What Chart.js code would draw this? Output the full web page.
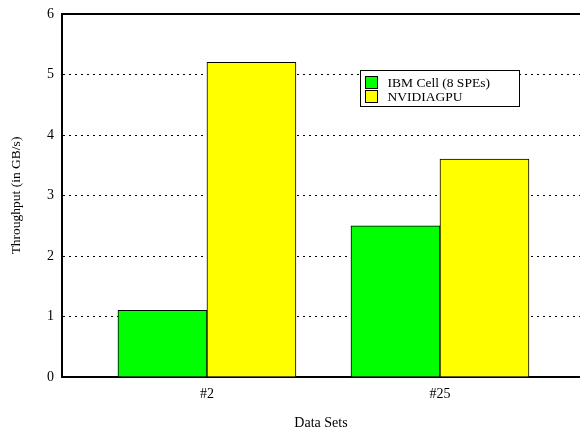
<!DOCTYPE html>
<html>
<head>
<meta charset="utf-8">
<script src="https://cdn.jsdelivr.net/npm/chart.js"></script>
<style>
  html, body { margin: 0; padding: 0; background: #fff; }
  #wrap { width: 580px; height: 428px; }
</style>
</head>
<body>
<div id="wrap"><canvas id="chart" width="580" height="428"></canvas></div>
<script>
const categories = ['#2', '#25'];
const ibmCell = [1.1, 2.5];
const nvidiaGpu = [5.2, 3.6];
const seriesNames = ['IBM Cell (8 SPEs)', 'NVIDIAGPU'];
const seriesColors = ['#00ff00', '#ffff00'];

const serif = "'Liberation Serif', 'Times New Roman', serif";

// top border + boxed legend drawn by hand, like gnuplot does it
const frameAndLegend = {
    id: 'frameAndLegend',
    afterDraw(chart) {
        const ctx = chart.ctx;
        const a = chart.chartArea;
        ctx.save();
        ctx.strokeStyle = '#000';
        ctx.lineWidth = 2;
        ctx.beginPath();
        ctx.moveTo(a.left, a.top);
        ctx.lineTo(a.right, a.top);
        ctx.stroke();

        // legend
        const bx = 360.5, by = 70.5, bw = 159, bh = 36;
        ctx.fillStyle = '#fff';
        ctx.fillRect(bx, by, bw, bh);
        ctx.lineWidth = 1;
        ctx.strokeRect(bx, by, bw, bh);
        ctx.font = '13.5px ' + serif;
        ctx.textBaseline = 'middle';
        chart.data.datasets.forEach((ds, i) => {
            const y = by + 12 + i * 14;
            ctx.fillStyle = ds.backgroundColor;
            ctx.fillRect(bx + 5, y - 6, 12, 12);
            ctx.strokeRect(bx + 5, y - 6, 12, 12);
            ctx.fillStyle = '#000';
            ctx.fillText(ds.label, bx + 27, y + 1);
        });
        ctx.restore();
    }
};

new Chart(document.getElementById('chart'), {
    type: 'bar',
    data: {
        datasets: [
            {
                label: seriesNames[0],
                data: ibmCell.map((v, i) => ({ x: i, y: v })),
                backgroundColor: seriesColors[0],
                borderColor: '#000',
                borderWidth: 1,
                barThickness: 89
            },
            {
                label: seriesNames[1],
                data: nvidiaGpu.map((v, i) => ({ x: i, y: v })),
                backgroundColor: seriesColors[1],
                borderColor: '#000',
                borderWidth: 1,
                barThickness: 89
            }
        ]
    },
    options: {
        responsive: false,
        animation: false,
        layout: { padding: { top: 14, right: 0, left: 0, bottom: 0 } },
        plugins: {
            legend: { display: false },
            tooltip: { enabled: false }
        },
        scales: {
            x: {
                type: 'linear',
                offset: false,
                min: -0.622,
                max: 1.601,
                afterBuildTicks: (scale) => {
                    scale.ticks = categories.map((c, i) => ({ value: i }));
                },
                afterFit: (scale) => { scale.height = 51; },
                grid: { display: false },
                border: { display: true, color: '#000', width: 2 },
                ticks: {
                    color: '#000',
                    font: { family: serif, size: 14 },
                    padding: 1,
                    maxRotation: 0,
                    callback: (v) => categories[v]
                },
                title: {
                    display: true,
                    text: 'Data Sets',
                    color: '#000',
                    font: { family: serif, size: 14 },
                    padding: { top: 20, bottom: -4 }
                }
            },
            y: {
                min: 0,
                max: 6,
                afterFit: (scale) => {
                    scale.width = 62;
                    scale.paddingTop = 0;
                    scale.paddingBottom = 0;
                },
                grid: {
                    color: (c) => (c.tick.value === 0 || c.tick.value === 6) ? 'rgba(0,0,0,0)' : '#000',
                    lineWidth: 1,
                    drawTicks: false
                },
                border: { display: true, color: '#000', width: 2, dash: [2, 4] },
                ticks: {
                    stepSize: 1,
                    color: '#000',
                    font: { family: serif, size: 14 },
                    padding: 8
                },
                title: {
                    display: true,
                    text: 'Throughput (in GB/s)',
                    color: '#000',
                    font: { family: serif, size: 13.5 },
                    padding: { top: 8, bottom: 12 }
                }
            }
        }
    },
    plugins: [frameAndLegend]
});
</script>
</body>
</html>
